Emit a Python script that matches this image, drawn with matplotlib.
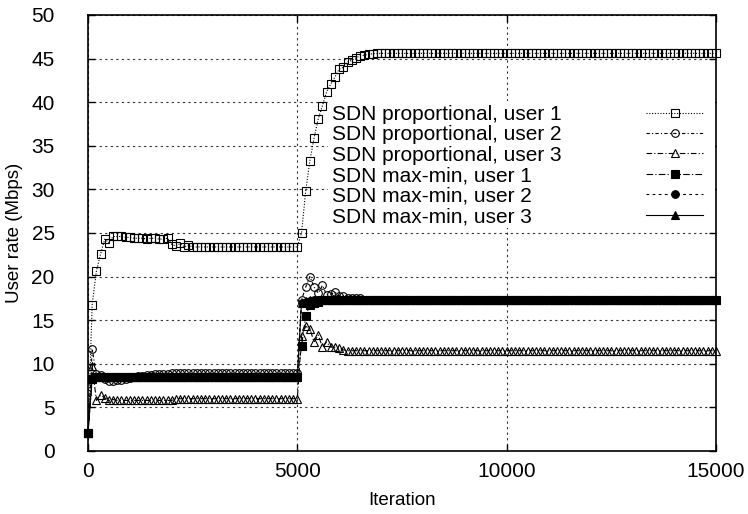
import numpy as np
import matplotlib
matplotlib.use("Agg")
import matplotlib.pyplot as plt
from matplotlib.lines import Line2D
from matplotlib.patches import Rectangle

plt.rcParams["font.family"] = ["Liberation Sans", "DejaVu Sans"]

# ── Data (one sample every 100 iterations, 0 .. 15000) ───────────────────────
iterations = np.arange(0, 15001, 100)

prop_user1 = ([2.1, 16.8, 20.6, 22.6, 24.3, 23.9, 24.6]
              + [24.6, 24.6, 24.5, 24.5, 24.4, 24.4, 24.4, 24.3, 24.4, 24.4, 24.3, 24.3, 24.4]
              + [23.7, 23.5, 23.8, 23.4, 23.6]
              + [23.4] * 26
              + [25.0, 29.8, 33.3, 35.9, 38.1, 39.6, 41.2, 42.1, 42.9, 43.8,
                 44.0, 44.6, 44.8, 45.1, 45.3, 45.4, 45.5, 45.55]
              + [45.6] * 82)

prop_user2 = ([2.1, 11.7, 8.8, 8.7, 8.3, 8.0, 8.0, 8.1, 8.1, 8.3, 8.4, 8.5, 8.6, 8.6, 8.7, 8.7]
              + [8.8] * 4
              + [8.9] * 31
              + [17.3, 18.8, 20.0, 18.8, 18.1, 19.0, 17.9, 18.0, 18.2, 17.8,
                 17.8, 17.6, 17.6, 17.5, 17.5]
              + [17.3] * 85)

prop_user3 = ([2.1, 9.8, 5.8, 6.4, 6.1, 5.8, 5.9]
              + [5.8] * 14
              + [6.0] * 30
              + [13.2, 14.3, 14.0, 12.5, 13.3, 11.9, 12.5, 11.9, 11.9, 11.8, 11.6]
              + [11.5] * 89)

mm_user1 = ([2.1, 8.3] + [8.5] * 49
            + [12.0, 15.5, 16.8, 17.0, 17.1] + [17.3] * 95)

mm_user2 = ([2.1, 8.4] + [8.5] * 49
            + [17.0, 17.1, 17.2] + [17.3] * 97)

mm_user3 = ([2.1, 8.4] + [8.5] * 49
            + [17.0, 17.2] + [17.3] * 98)

labels = ["SDN proportional, user 1", "SDN proportional, user 2",
          "SDN proportional, user 3", "SDN max-min, user 1",
          "SDN max-min, user 2", "SDN max-min, user 3"]

# ── Plot ─────────────────────────────────────────────────────────────────────
fig = plt.figure(figsize=(7.48, 5.14), dpi=100)
ax = fig.add_axes([88 / 748, 63 / 514, 628 / 748, 436 / 514])

styles = [
    dict(marker="s", mfc="none", ls=(0, (1, 1.5))),
    dict(marker="o", mfc="none", ls=(0, (3, 2, 1, 2))),
    dict(marker="^", mfc="none", ls=(0, (5, 2, 1, 2))),
    dict(marker="s", mfc="black", ls=(0, (6, 2, 1, 2))),
    dict(marker="o", mfc="black", ls=(0, (2.5, 3))),
    dict(marker="^", mfc="black", ls="-"),
]
series = [prop_user1, prop_user2, prop_user3, mm_user1, mm_user2, mm_user3]

handles = []
for vals, lab, st in zip(series, labels, styles):
    h, = ax.plot(iterations, vals, color="black", lw=0.8, ms=5.5, mew=0.8,
                 mec="black", label=lab, clip_on=False, **st)
    handles.append(h)

ax.set_xlim(0, 15000)
ax.set_ylim(0, 50)
ax.set_xticks([0, 5000, 10000, 15000])
ax.set_yticks(range(0, 51, 5))
ax.tick_params(direction="in", length=5, width=1, top=True, right=True,
               labelsize=15)
ax.tick_params(axis="x", pad=8)
ax.tick_params(axis="y", pad=24)
for s in ax.spines.values():
    s.set_linewidth(1.2)
ax.grid(True, color="#333333", linestyle=(0, (2, 3)), linewidth=0.8)
ax.set_axisbelow(True)

ax.set_xlabel("Iteration", fontsize=13.5, labelpad=8)
ax.set_ylabel("User rate (Mbps)", fontsize=13.5, labelpad=6)

# opaque key area (hides the grid behind the key, like gnuplot)
ax.add_patch(Rectangle((0.382, 0.511), 0.617, 0.292, transform=ax.transAxes,
                       facecolor="white", edgecolor="none", zorder=1.5))

# gnuplot-style key: left-aligned text column, samples at the right
leg_kw = dict(loc="upper left", frameon=False, fontsize=15, labelspacing=0.07,
              borderpad=0, borderaxespad=0)
blank = [Line2D([], [], linestyle="none") for _ in labels]
leg_text = ax.legend(blank, labels, bbox_to_anchor=(0.388, 0.794),
                     handlelength=0, handletextpad=0, **leg_kw)
ax.add_artist(leg_text)
ax.legend(handles, [" "] * len(handles), bbox_to_anchor=(0.8885, 0.794),
          handlelength=2.75, handletextpad=0, **leg_kw)

fig.savefig("out.png", dpi=100)
plt.close(fig)
